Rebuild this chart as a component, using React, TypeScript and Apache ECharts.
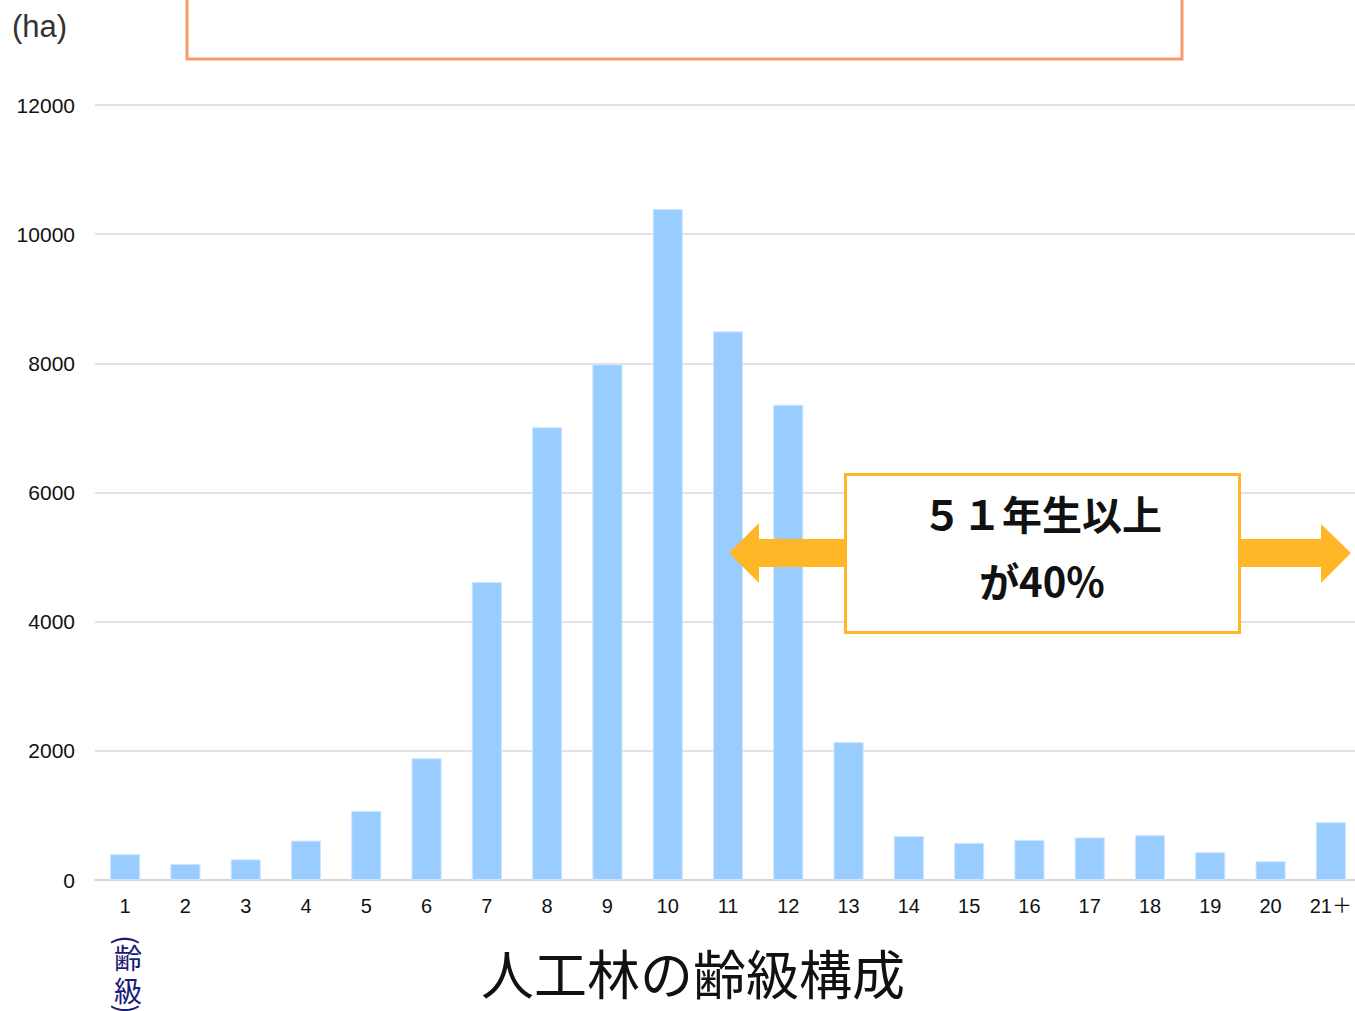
import React, { useEffect, useRef } from "react";
import * as echarts from "echarts";

const categories = ["1", "2", "3", "4", "5", "6", "7", "8", "9", "10", "11", "12", "13", "14", "15", "16", "17", "18", "19", "20", "21＋"];
const areaHa = [400, 250, 320, 610, 1070, 1885, 4615, 7010, 7985, 10390, 8495, 7360, 2135, 680, 575, 620, 660, 695, 430, 290, 895];
const yTicks = { min: 0, max: 12000, interval: 2000 };
const unitLabel = "(ha)";
const axisNameChars = ["齢", "級"];
const chartTitle = "人工林の齢級構成";
const calloutLines = ["５１年生以上", "が40%"];

const JP = "'Noto Sans CJK JP', 'Noto Sans', sans-serif";
const LAT = "'Liberation Sans', Arial, 'Noto Sans CJK JP', sans-serif";
const ARROW = "#FFB627";
const NAVY = "#1B1B78";

export default function App() {
  const ref = useRef<HTMLDivElement>(null);
  useEffect(() => {
    if (!ref.current) return;
    const chart = echarts.init(ref.current, null, { renderer: "svg" });
    chart.setOption({
      animation: false,
      backgroundColor: "#ffffff",
      grid: { left: 95, top: 105, right: 0, height: 775, containLabel: false },
      xAxis: {
        type: "category",
        data: categories,
        axisLine: { lineStyle: { color: "#d6d6d6", width: 2 } },
        axisTick: { show: false },
        axisLabel: { color: "#111", fontSize: 20, margin: 16, fontFamily: LAT, interval: 0 },
      },
      yAxis: {
        type: "value",
        min: yTicks.min,
        max: yTicks.max,
        interval: yTicks.interval,
        axisLine: { show: false },
        axisTick: { show: false },
        axisLabel: { color: "#111", fontSize: 21, margin: 20, fontFamily: LAT, formatter: (v: number) => String(v) },
        splitLine: { lineStyle: { color: "#dadada", width: 1.6 } },
      },
      series: [
        {
          type: "bar",
          data: areaHa,
          barWidth: "50%",
          itemStyle: { color: "#99CCFF", borderColor: "#cfe6ff", borderWidth: 1 },
        },
      ],
      graphic: [
        {
          type: "rect",
          z: 100,
          shape: { x: 187, y: -40, width: 995, height: 99 },
          style: { fill: "#ffffff", stroke: "#F89B68", lineWidth: 3 },
        },
        {
          type: "text",
          z: 100,
          style: { text: unitLabel, x: 12, y: 26, font: `31px ${LAT}`, fill: "#333", verticalAlign: "middle", align: "left" },
        },
        {
          type: "polygon",
          z: 100,
          shape: { points: [[729, 553], [759, 523], [759, 539], [847, 539], [847, 567], [759, 567], [759, 583]] },
          style: { fill: ARROW },
        },
        {
          type: "polygon",
          z: 100,
          shape: { points: [[1238, 539], [1321, 539], [1321, 524], [1351, 553], [1321, 583], [1321, 567], [1238, 567]] },
          style: { fill: ARROW },
        },
        {
          type: "rect",
          z: 101,
          shape: { x: 845.5, y: 474.5, width: 394, height: 158 },
          style: { fill: "#ffffff", stroke: ARROW, lineWidth: 3 },
        },
        {
          type: "text",
          z: 102,
          style: { text: calloutLines[0], x: 1042, y: 513, font: `bold 40px ${JP}`, fill: "#111", align: "center", verticalAlign: "middle" },
        },
        {
          type: "text",
          z: 102,
          style: { text: calloutLines[1], x: 1042, y: 580, font: `bold 40px ${JP}`, fill: "#111", align: "center", verticalAlign: "middle" },
        },
        {
          type: "text",
          z: 100,
          x: 128,
          y: 940,
          rotation: -Math.PI / 2,
          style: { text: "(", x: 0, y: 0, font: `28px ${JP}`, fill: NAVY, align: "center", verticalAlign: "middle" },
        },
        {
          type: "text",
          z: 100,
          style: { text: axisNameChars[0], x: 128, y: 957, font: `28px ${JP}`, lineHeight: 28, fill: NAVY, align: "center", verticalAlign: "middle" },
        },
        {
          type: "text",
          z: 100,
          style: { text: axisNameChars[1], x: 128, y: 990, font: `28px ${JP}`, lineHeight: 28, fill: NAVY, align: "center", verticalAlign: "middle" },
        },
        {
          type: "text",
          z: 100,
          x: 128,
          y: 1009,
          rotation: -Math.PI / 2,
          style: { text: ")", x: 0, y: 0, font: `28px ${JP}`, fill: NAVY, align: "center", verticalAlign: "middle" },
        },
        {
          type: "text",
          z: 100,
          style: { text: chartTitle, x: 693, y: 972, font: `53px ${JP}`, fill: "#111", align: "center", verticalAlign: "middle" },
        },
      ],
    });
    return () => chart.dispose();
  }, []);
  return (
    <div style={{ position: "absolute", left: 0, top: 0, width: 1355, height: 1011, overflow: "hidden" }}>
      <div ref={ref} style={{ width: 1361, height: 1011 }} />
    </div>
  );
}
